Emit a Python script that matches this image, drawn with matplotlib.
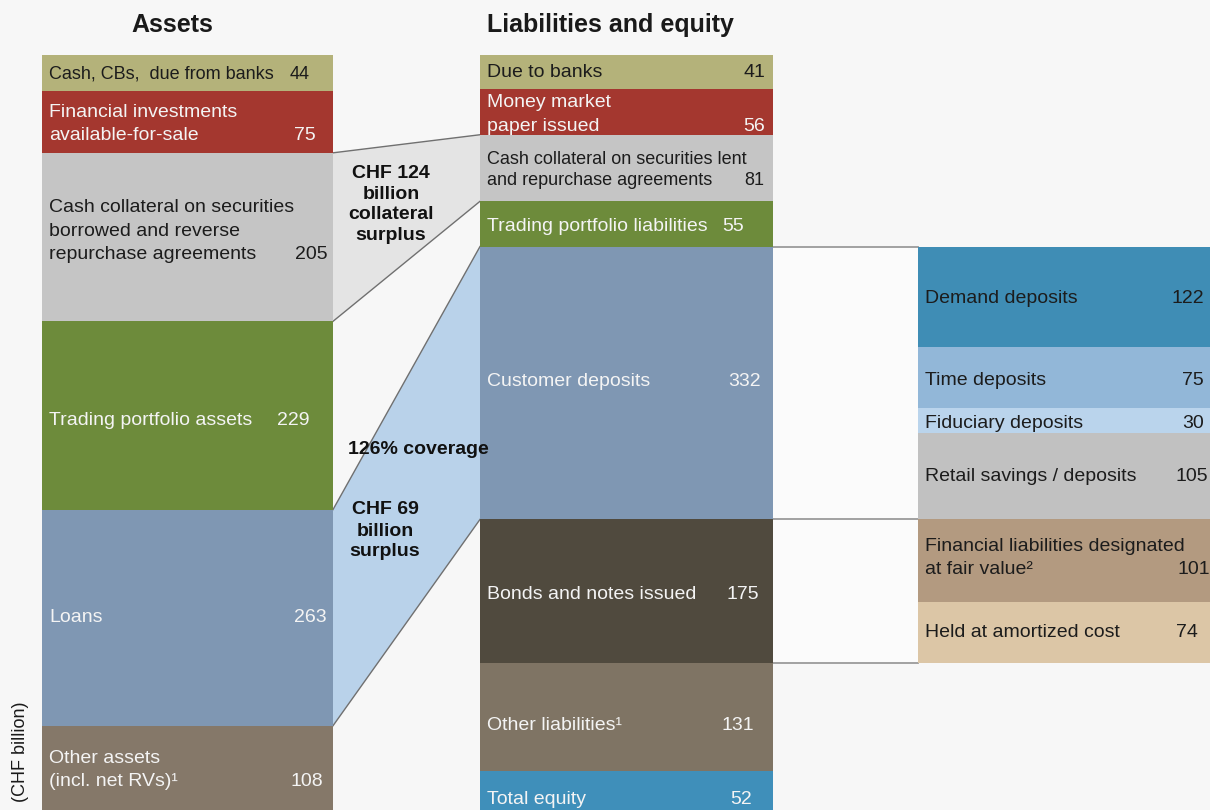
import matplotlib
matplotlib.use("Agg")
import matplotlib.pyplot as plt
import numpy as np
from matplotlib.patches import Polygon, Rectangle

plt.rcParams["font.family"] = ["Liberation Sans", "DejaVu Sans"]

# ---------------- data (CHF billion) ----------------
asset_labels = [
    "Cash, CBs,  due from banks",
    "Financial investments\navailable-for-sale",
    "Cash collateral on securities\nborrowed and reverse\nrepurchase agreements",
    "Trading portfolio assets",
    "Loans",
    "Other assets\n(incl. net RVs)\u00b9",
]
asset_values = [44, 75, 205, 229, 263, 108]

liab_labels = [
    "Due to banks",
    "Money market\npaper issued",
    "Cash collateral on securities lent\nand repurchase agreements",
    "Trading portfolio liabilities",
    "Customer deposits",
    "Bonds and notes issued",
    "Other liabilities\u00b9",
    "Total equity",
]
liab_values = [41, 56, 81, 55, 332, 175, 131, 52]

deposit_labels = ["Demand deposits", "Time deposits", "Fiduciary deposits",
                  "Retail savings / deposits"]
deposit_values = [122, 75, 30, 105]

bond_labels = ["Financial liabilities designated\nat fair value\u00b2",
               "Held at amortized cost"]
bond_values = [101, 74]

titles = ["Assets", "Liabilities and equity"]
unit_label = "(CHF billion)"

# ---------------- styles / layout ----------------
DARK, LIGHT = "#1c1c1c", "#f4f4f4"
asset_colors = ["#b4b27a", "#a4372f", "#c5c5c5", "#6d8b3b", "#7f97b3", "#857869"]
asset_tc = [DARK, LIGHT, DARK, LIGHT, LIGHT, LIGHT]
asset_fs = [13, 14, 14, 14, 14, 14]
asset_voff = [23, 17, 5, 23, 6, 10]
asset_dy = [-1, 0, -8, 3, -2, -2]

liab_colors = ["#b4b27a", "#a4372f", "#c5c5c5", "#6d8b3b", "#7f97b3",
               "#504a3e", "#7f7464", "#3f8fba"]
liab_tc = [DARK, LIGHT, DARK, LIGHT, LIGHT, LIGHT, LIGHT, LIGHT]
liab_fs = [14, 14, 13, 14, 14, 14, 14, 14]
liab_voff = [8, 8, 9, 29, 12, 14, 19, 21]
liab_dy = [-1, 1, 0, 1, -3, 1, 6, 5]

dep_colors = ["#3f8db5", "#92b7d8", "#bad4ec", "#c1c1c1"]
dep_tc = [DARK] * 4
dep_fs = [14] * 4
dep_voff = [14, 14, 14, 10]
dep_dy = [0, 1, 1, -2]

bond_colors = ["#b39a80", "#dcc6a6"]
bond_tc = [DARK] * 2
bond_fs = [14, 14]
bond_voff = [8, 20]
bond_dy = [-5, -2]

BG = "#f7f7f7"
W_PX, H_PX = 1210, 810
PX = 0.822          # pixels per CHF bn
TOP = 55            # pixel row of the top of the stacks
ASSET_X, ASSET_W = 42, 291
LIAB_X, LIAB_W = 480, 293
DET_X, DET_W = 918, 300
PAD = 7
STEP = {14: 23.5, 13: 21.5}   # line step (px) for multi-line labels

fig = plt.figure(figsize=(W_PX / 100, H_PX / 100), dpi=100, facecolor=BG)
ax = fig.add_axes([0, 0, 1, 1])
ax.set_facecolor(BG)
ax.set_xlim(0, W_PX)
ax.set_ylim((H_PX - TOP) / PX, -TOP / PX)
ax.axis("off")


def ypx(py):
    return (py - TOP) / PX


def column(x, w, labels, values, start, colors, tcs, fss, voffs, dys):
    values = np.asarray(values, dtype=float)
    bottoms = start + np.concatenate([[0], np.cumsum(values)[:-1]])
    ax.bar(x, values, width=w, bottom=bottoms, align="edge", color=colors,
           linewidth=0, zorder=2)
    for lab, v, b, tc, fs, vo, dy in zip(labels, values, bottoms, tcs, fss, voffs, dys):
        lines = lab.split("\n")
        n = len(lines)
        stp = STEP[fs] / PX
        first = b + v / 2 + dy / PX - (n - 1) / 2 * stp
        for i, ln in enumerate(lines):
            ax.text(x + PAD, first + i * stp, ln, ha="left", va="center_baseline",
                    fontsize=fs, color=tc, zorder=5)
        ax.text(x + w - vo, first + (n - 1) * stp, f"{int(v)}", ha="right",
                va="center_baseline", fontsize=fs, color=tc, zorder=5)
    return bottoms, bottoms + values


a_top, a_bot = column(ASSET_X, ASSET_W, asset_labels, asset_values, 0,
                      asset_colors, asset_tc, asset_fs, asset_voff, asset_dy)
l_top, l_bot = column(LIAB_X, LIAB_W, liab_labels, liab_values, 0,
                      liab_colors, liab_tc, liab_fs, liab_voff, liab_dy)
i_dep = liab_labels.index("Customer deposits")
i_bond = liab_labels.index("Bonds and notes issued")
column(DET_X, DET_W, deposit_labels, deposit_values, l_top[i_dep],
       dep_colors, dep_tc, dep_fs, dep_voff, dep_dy)
column(DET_X, DET_W, bond_labels, bond_values, l_top[i_bond],
       bond_colors, bond_tc, bond_fs, bond_voff, bond_dy)

# connectors between assets and liabilities
LINE_C = "#707070"


def connector(ai, li, fc):
    xa, xl = ASSET_X + ASSET_W, LIAB_X
    ax.add_patch(Polygon([(xa, a_top[ai]), (xl, l_top[li]), (xl, l_bot[li]),
                          (xa, a_bot[ai])], closed=True, fc=fc, ec="none", zorder=1))
    ax.plot([xa, xl], [a_top[ai], l_top[li]], color=LINE_C, lw=1.0, zorder=1.5)
    ax.plot([xa, xl], [a_bot[ai], l_bot[li]], color=LINE_C, lw=1.0, zorder=1.5)


i_cc = 2
connector(i_cc, i_cc, "#e4e4e4")
i_loans = asset_labels.index("Loans")
connector(i_loans, i_dep, "#b9d2ea")

# bracket to the breakdown column
xr = LIAB_X + LIAB_W
ax.add_patch(Rectangle((xr, l_top[i_dep]), DET_X - xr, l_bot[i_bond] - l_top[i_dep],
                       fc="#fbfbfb", ec="none", zorder=1))
for yv in [l_top[i_dep], l_bot[i_dep], l_bot[i_bond]]:
    ax.plot([xr, DET_X], [yv, yv], color="#9a9a9a", lw=1.3, zorder=1.5)

# annotations
surplus_cc = asset_values[i_cc] - liab_values[i_cc]
surplus_dep = liab_values[i_dep] - asset_values[i_loans]
coverage = round(100 * liab_values[i_dep] / asset_values[i_loans])
ann1 = [f"CHF {surplus_cc}", "billion", "collateral", "surplus"]
ann2 = [f"CHF {surplus_dep}", "billion", "surplus"]
for i, ln in enumerate(ann1):
    ax.text(391, ypx(172 + i * 20.4), ln, ha="center", va="center_baseline",
            fontsize=14, fontweight="bold", color="#111111", zorder=6)
for i, ln in enumerate(ann2):
    ax.text(385, ypx(508 + i * 21), ln, ha="center", va="center_baseline",
            fontsize=14, fontweight="bold", color="#111111", zorder=6)
ax.text(348, ypx(448), f"{coverage}% coverage", ha="left", va="center_baseline",
        fontsize=14, fontweight="bold", color="#111111", zorder=6)

# titles
ax.text(172, ypx(23), titles[0], ha="center", va="center_baseline",
        fontsize=18, fontweight="bold", color="#1a1a1a")
ax.text(610, ypx(23), titles[1], ha="center", va="center_baseline",
        fontsize=18, fontweight="bold", color="#1a1a1a")
ax.text(21, ypx(752), unit_label, ha="center", va="center", rotation=90,
        fontsize=13, color="#1a1a1a")

fig.savefig("out.png", dpi=100, facecolor=BG)
